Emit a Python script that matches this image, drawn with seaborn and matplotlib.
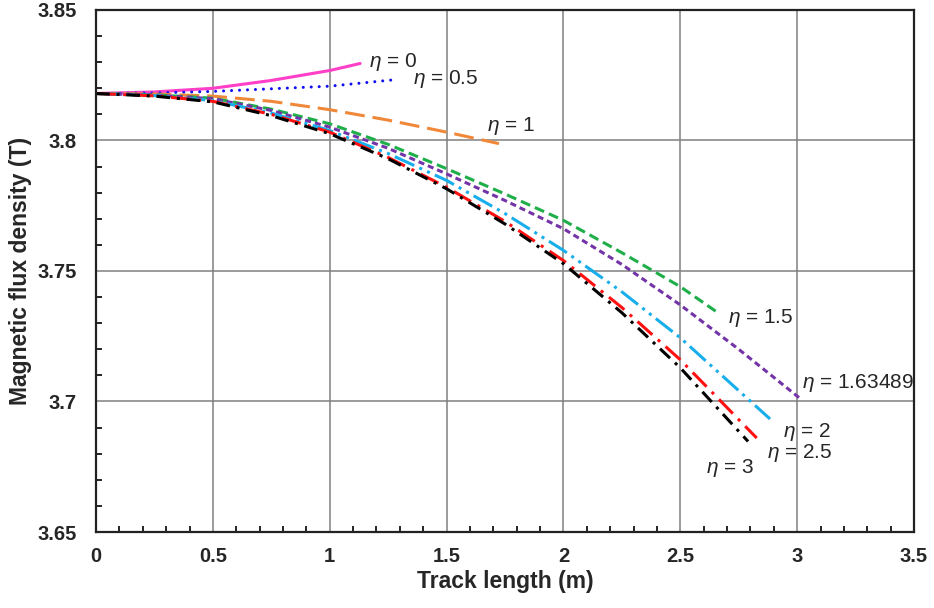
import numpy as np
import pandas as pd
import seaborn as sns
import matplotlib.pyplot as plt
from matplotlib.ticker import MultipleLocator

# values
x_eta0 = [0, 0.25, 0.5, 0.75, 1.0, 1.13]
y_eta0 = [3.818, 3.8186, 3.8200, 3.8230, 3.8268, 3.8295]

x_eta05 = [0, 0.25, 0.5, 0.75, 1.0, 1.28]
y_eta05 = [3.818, 3.8182, 3.8188, 3.8198, 3.8208, 3.8233]

x_eta1 = [0, 0.25, 0.5, 0.75, 1.0, 1.25, 1.5, 1.724]
y_eta1 = [3.818, 3.8178, 3.8170, 3.8150, 3.8118, 3.8078, 3.8032, 3.7988]

x_eta15 = [0, 0.25, 0.5, 0.75, 1.0, 1.25, 1.5, 1.75, 2.0, 2.25, 2.5, 2.653]
y_eta15 = [3.818, 3.8175, 3.8162, 3.8120, 3.8064, 3.7985, 3.7892, 3.7795, 3.7694, 3.7570, 3.7440, 3.7345]

x_eta163 = [0, 0.25, 0.5, 0.75, 1.0, 1.25, 1.5, 1.75, 2.0, 2.25, 2.5, 2.75, 3.012]
y_eta163 = [3.818, 3.8174, 3.8160, 3.8115, 3.8051, 3.7970, 3.7872, 3.7770, 3.7662, 3.7525, 3.7370, 3.7200, 3.7012]

x_eta2 = [0, 0.25, 0.5, 0.75, 1.0, 1.25, 1.5, 1.75, 2.0, 2.25, 2.5, 2.884]
y_eta2 = [3.818, 3.8172, 3.8153, 3.8105, 3.8038, 3.7950, 3.7847, 3.7720, 3.7579, 3.7420, 3.7244, 3.6933]

x_eta25 = [0, 0.25, 0.5, 0.75, 1.0, 1.25, 1.5, 1.75, 2.0, 2.25, 2.5, 2.827]
y_eta25 = [3.818, 3.8171, 3.8150, 3.8100, 3.8032, 3.7935, 3.7821, 3.7690, 3.7540, 3.7360, 3.7160, 3.6860]

x_eta3 = [0, 0.25, 0.5, 0.75, 1.0, 1.25, 1.5, 1.75, 2.0, 2.25, 2.5, 2.79]
y_eta3 = [3.818, 3.8170, 3.8148, 3.8095, 3.8026, 3.7930, 3.7815, 3.7680, 3.7528, 3.7340, 3.7129, 3.6847]

labels = ['0', '0.5', '1', '1.5', '1.63489', '2', '2.5', '3']
label_x = [1.17, 1.355, 1.675, 2.705, 3.02, 2.94, 2.87, 2.61]
label_y = [3.8302, 3.8236, 3.8056, 3.7320, 3.7070, 3.6882, 3.6803, 3.6746]

sns.set_style('white')
plt.rcParams['font.family'] = ['Liberation Sans', 'DejaVu Sans']
plt.rcParams['mathtext.fontset'] = 'custom'
plt.rcParams['mathtext.it'] = 'Liberation Sans:italic'

fig = plt.figure(figsize=(9.34, 6.08), dpi=100)
ax = fig.add_axes([0.1028, 0.125, 0.8758, 0.8586])

lw = 2.2
series = [
    (x_eta0, y_eta0, '#FF3FC8', '-', 'butt'),
    (x_eta05, y_eta05, '#1010F0', (0, (0.01, 2.6)), 'round'),
    (x_eta1, y_eta1, '#F0883A', (0, (6.5, 2.6)), 'butt'),
    (x_eta15, y_eta15, '#1FAF4A', (0, (3.3, 1.7)), 'butt'),
    (x_eta163, y_eta163, '#7434A8', (0, (2.0, 1.3)), 'butt'),
    (x_eta2, y_eta2, '#18AEEB', (0, (7, 1.8, 1, 1.8, 1, 1.8)), 'butt'),
    (x_eta25, y_eta25, '#FF1010', (0, (6.5, 2.4, 1, 2.4)), 'butt'),
    (x_eta3, y_eta3, '#000000', (0, (4.5, 2.2, 1, 2.2)), 'butt'),
]
for xs, ys, col, ls, cap in series:
    sns.lineplot(x=xs, y=ys, ax=ax, color=col, linestyle=ls, linewidth=lw,
                 dash_capstyle=cap, sort=False)

for lab, lx, ly in zip(labels, label_x, label_y):
    ax.text(lx, ly, r'$\eta$ = ' + lab, fontsize=15, va='center', ha='left')

ax.set_xlim(0, 3.5)
ax.set_ylim(3.65, 3.85)
ax.xaxis.set_minor_locator(MultipleLocator(0.1))
ax.yaxis.set_minor_locator(MultipleLocator(0.01))
ax.set_xticks(np.arange(0, 3.51, 0.5))
ax.set_xticklabels(['0', '0.5', '1', '1.5', '2', '2.5', '3', '3.5'])
ax.set_yticks([3.65, 3.7, 3.75, 3.8, 3.85])
ax.set_yticklabels(['3.65', '3.7', '3.75', '3.8', '3.85'])
ax.grid(True, which='major', color='#808080', linewidth=1.1)
ax.tick_params(which='both', direction='in', color='black', width=1.2,
               bottom=True, left=True)
ax.tick_params(which='major', length=0, labelsize=14.5)
ax.tick_params(axis='y', which='major', pad=14)
ax.tick_params(axis='x', which='major', pad=11)
ax.tick_params(which='minor', length=4)
for lbl in ax.get_xticklabels() + ax.get_yticklabels():
    lbl.set_fontweight('bold')
for sp in ax.spines.values():
    sp.set_color('#222222')
    sp.set_linewidth(1.6)

ax.set_xlabel('Track length (m)', fontsize=16.5, fontweight='bold', labelpad=3)
ax.set_ylabel('Magnetic flux density (T)', fontsize=16.5, fontweight='bold', labelpad=4)

fig.savefig('out.png', dpi=100)
